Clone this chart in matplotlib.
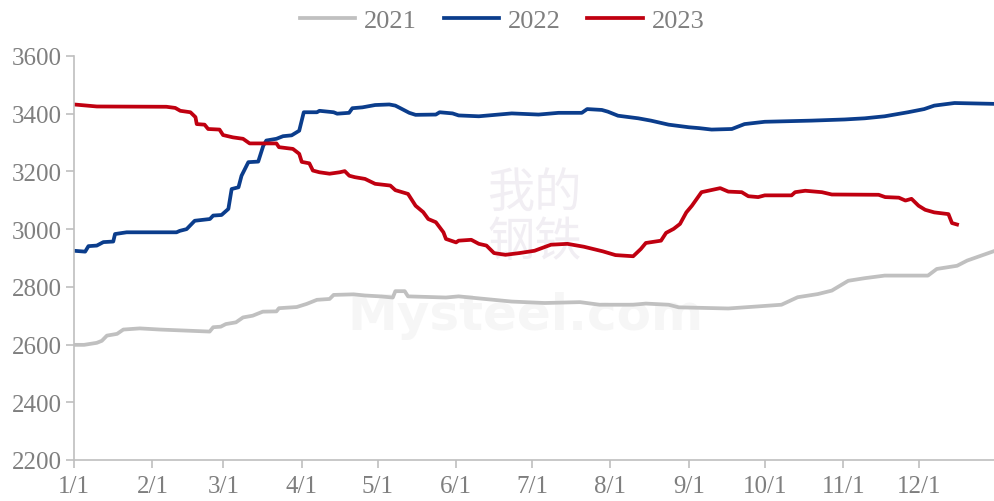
import matplotlib.pyplot as plt

plt.rcParams['font.family'] = ['Liberation Serif', 'DejaVu Serif']

# day of year (0 = Jan 1) and price
days_2021 = [0, 4, 9, 11, 13, 17, 19.5, 26, 34, 53.6, 55, 58, 60, 64, 66.8, 70.6, 74.6, 80, 81, 88, 92, 96, 101,
             102.6, 110.5, 115, 121, 126, 127, 130.7, 132, 147, 152, 160, 173, 186, 200, 207.7, 221, 226, 235, 239,
             258.6, 270, 279.6, 286, 294, 299.5, 306, 312.5, 320.4, 337.5, 341, 349, 353, 364]
vals_2021 = [2599, 2599, 2606, 2613, 2631, 2637, 2652, 2656, 2652, 2645, 2660, 2662, 2671, 2677, 2694, 2700, 2714, 2715,
             2726, 2730, 2741, 2755, 2758, 2772, 2774, 2770, 2767, 2763, 2785, 2785, 2767, 2763, 2767, 2760, 2749,
             2744, 2747, 2738, 2738, 2742, 2738, 2729, 2725, 2732, 2738, 2764, 2775, 2787, 2821, 2830, 2839, 2839,
             2862, 2873, 2891, 2925]

days_2022 = [0, 4.4, 5.7, 9, 11.6, 15.5, 16.2, 20.8, 40.5, 41.8, 44.5, 47.7, 53.7, 55, 58.3, 61, 62.3, 65, 66.2, 68.9,
             72.8, 74.8, 76, 80, 82.6, 86, 89, 90.8, 96, 97, 102.6, 104, 108.7, 110, 114, 119, 124.6, 127, 129,
             132.5, 135, 143, 144.5, 149.6, 152, 160, 173, 183.6, 191.5, 200.7, 202.8, 208.6, 211, 215, 223, 228,
             235, 243, 247, 252, 260, 265, 273, 291.5, 304.6, 312.5, 320.4, 329.6, 336, 340, 348, 364]
vals_2022 = [2925, 2922, 2941, 2943, 2955, 2957, 2983, 2989, 2989, 2994, 3000, 3029, 3035, 3047, 3049, 3070, 3139,
             3145, 3185, 3232, 3234, 3289, 3307, 3313, 3322, 3325, 3341, 3405, 3405, 3410, 3405, 3400, 3403, 3419,
             3422, 3430, 3432, 3428, 3419, 3403, 3396, 3397, 3405, 3401, 3394, 3391, 3401, 3397, 3403, 3403, 3416,
             3413, 3407, 3393, 3384, 3376, 3362, 3353, 3350, 3345, 3347, 3364, 3372, 3376, 3380, 3384, 3391, 3405,
             3416, 3428, 3437, 3434]

days_2023 = [0, 9, 36.5, 40, 42, 46, 48, 48.5, 51.6, 53, 57.5, 58.9, 62.8, 66.8, 69.4, 80, 81, 86.5, 89, 90, 93,
             94.4, 97, 101, 105, 107, 108.8, 111, 115, 119, 125, 127, 132, 135, 138, 140, 143, 146, 147, 151, 152,
             157, 160, 163, 166, 170.5, 176, 182, 188.5, 195, 201.5, 209, 214, 221, 224, 226, 232, 234, 237, 239.5,
             242, 244.2, 248, 255.4, 258.6, 263.9, 266.5, 270.4, 273, 283.6, 285, 289, 295.6, 299.5, 318, 320.6,
             326, 328.6, 331, 333.8, 336.4, 340, 345.6, 347, 349]
vals_2023 = [3432, 3425, 3424, 3420, 3410, 3405, 3388, 3364, 3362, 3347, 3345, 3326, 3318, 3313, 3297, 3297, 3284,
             3278, 3261, 3233, 3228, 3203, 3197, 3192, 3197, 3201, 3185, 3180, 3174, 3157, 3151, 3135, 3122, 3081,
             3059, 3035, 3024, 2989, 2966, 2954, 2960, 2963, 2949, 2943, 2917, 2911, 2917, 2925, 2946, 2949, 2939,
             2923, 2910, 2906, 2931, 2952, 2960, 2987, 3001, 3018, 3058, 3081, 3128, 3142, 3130, 3128, 3114, 3111,
             3117, 3117, 3128, 3133, 3128, 3120, 3119, 3111, 3109, 3099, 3105, 3081, 3067, 3058, 3052, 3021, 3016]

month_days = [0, 31, 59, 90, 120, 151, 181, 212, 243, 273, 304, 334]
month_labels = ['1/1', '2/1', '3/1', '4/1', '5/1', '6/1', '7/1', '8/1', '9/1', '10/1', '11/1', '12/1']

fig = plt.figure(figsize=(9.95, 5.02), dpi=100)
ax = fig.add_axes([0.0744, 0.0817, 0.9256, 0.8048])

# faint watermark
ax.text(0.5, 0.6, '我的\n钢铁', transform=ax.transAxes, ha='center', va='center', fontsize=34,
        family=['Noto Sans CJK SC'], color='#f1eef3', zorder=0, linespacing=1.0)
ax.text(0.49, 0.36, 'Mysteel.com', transform=ax.transAxes, ha='center', va='center', fontsize=36,
        family=['DejaVu Sans'], weight='bold', color='#f6f6f6', zorder=0)

ax.plot(days_2021, vals_2021, color='#c0c0c0', lw=2.7, label='2021')
ax.plot(days_2022, vals_2022, color='#0b3d8c', lw=2.7, label='2022')
ax.plot(days_2023, vals_2023, color='#c00010', lw=2.7, label='2023')

ax.set_xlim(0, 364)
ax.set_ylim(2200, 3600)
ax.set_yticks(range(2200, 3601, 200))
ax.set_xticks(month_days)
ax.set_xticklabels(month_labels)

for side in ['top', 'right']:
    ax.spines[side].set_visible(False)
for side in ['left', 'bottom']:
    ax.spines[side].set_color('#bfbfbf')
    ax.spines[side].set_linewidth(1.2)
ax.tick_params(axis='both', colors='#bfbfbf', length=6, width=1.2, labelsize=18, labelcolor='#7f7f7f')
ax.tick_params(axis='x', pad=5)
ax.tick_params(axis='y', pad=3)

leg = ax.legend(loc='upper center', bbox_to_anchor=(0.465, 1.175), ncol=3, frameon=False, fontsize=19,
                handlelength=2.1, columnspacing=1.0, handletextpad=0.35)
for t in leg.get_texts():
    t.set_color('#7f7f7f')

fig.savefig('out.png', dpi=100)
